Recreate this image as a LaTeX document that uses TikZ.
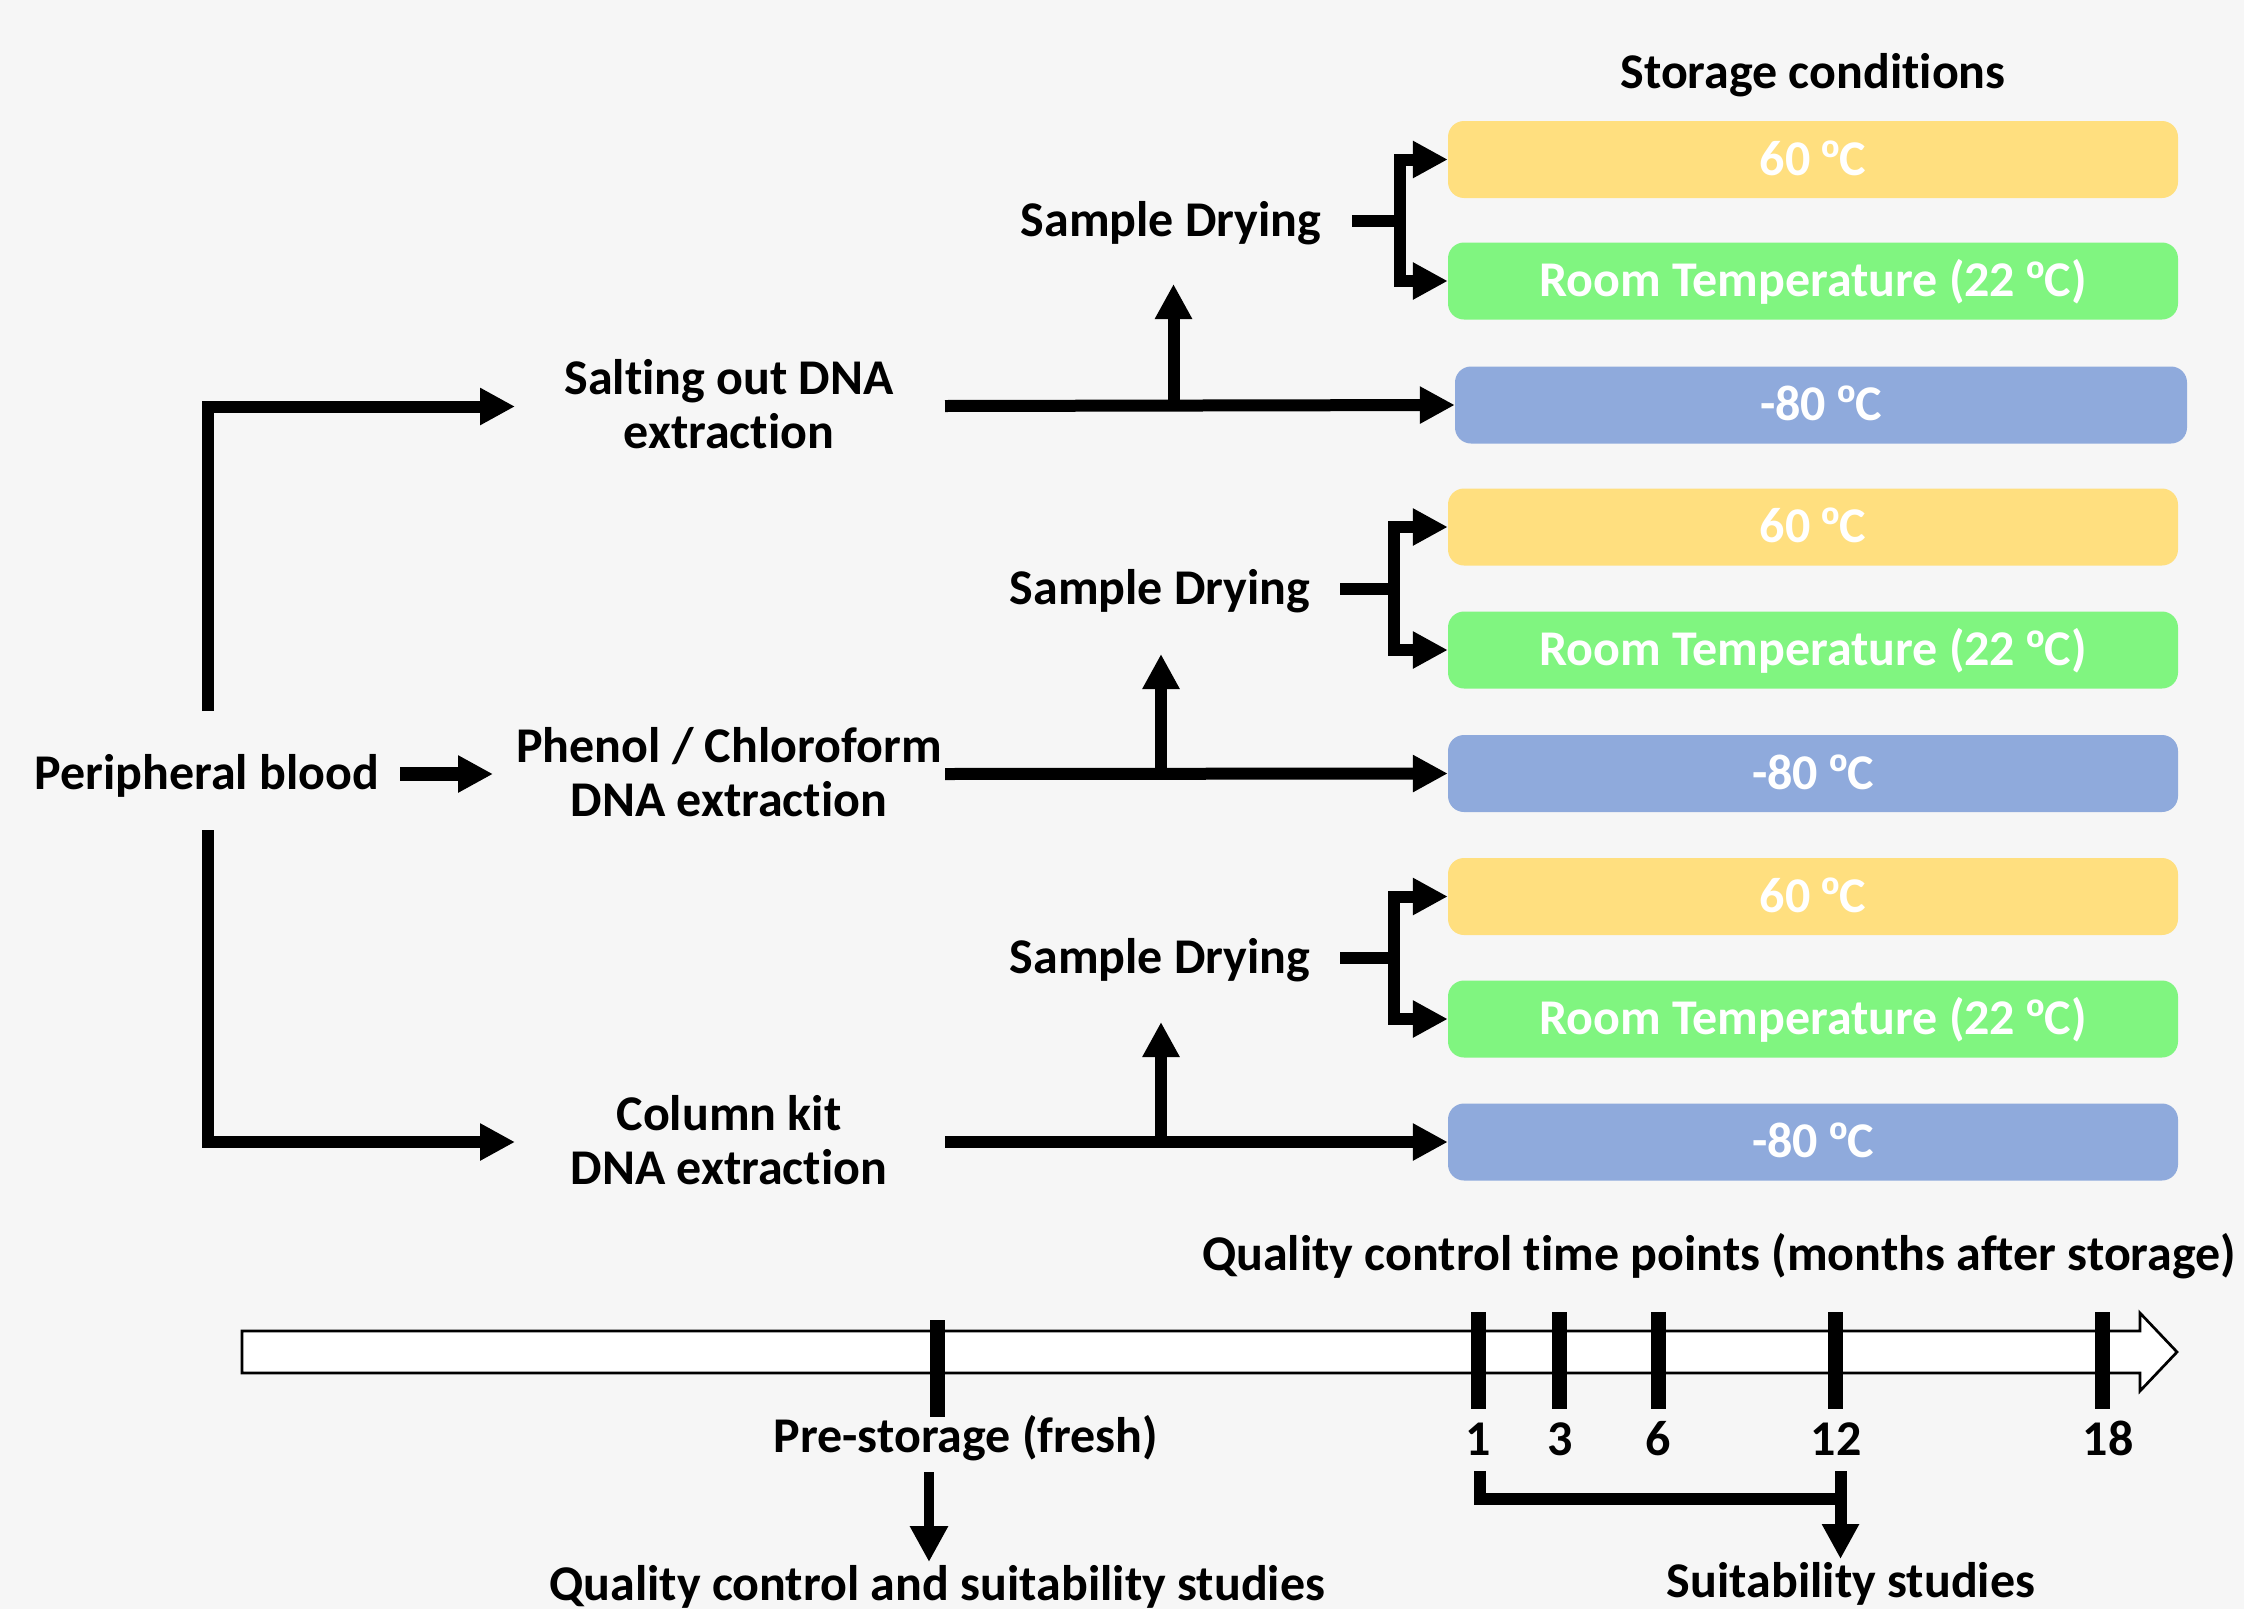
\documentclass[tikz,border=0pt]{standalone}
\usepackage{fontspec}
\setmainfont{Carlito}[Ligatures=NoCommon]
\newfontfamily\ordfont{Liberation Sans}
\usetikzlibrary{arrows.meta}
\definecolor{bg}{HTML}{F6F6F6}
\definecolor{warm}{HTML}{FFDF7F}
\definecolor{room}{HTML}{80F580}
\definecolor{cold}{HTML}{8FAADC}
% strut from 11.2pt below to 42.8pt above the baseline: a node's centre is the middle of its capitals
\newcommand{\capstrut}{\rule[-11.2pt]{0pt}{54pt}}
% underlined ordinal sign of the temperatures
\newcommand{\ordo}{{\ordfont\bfseries º}}
\begin{document}
\begin{tikzpicture}[x=1pt,y=-1pt,
  every node/.style={font=\fontsize{50}{54}\selectfont\bfseries, inner sep=0pt},
  lbl/.style={align=center},
  cond/.style={fill=#1, rounded corners=16pt, minimum height=77pt, text=white},
  flow/.style={line width=12pt, -{Triangle[length=35pt,width=35pt]}},
  fatflow/.style={line width=14pt, -{Triangle[length=35pt,width=35pt]}},
  link/.style={line width=12pt},
  tick/.style={line width=15pt},
]
\fill[bg] (0,0) rectangle (2244,1609);
\useasboundingbox (0,0) rectangle (2244,1609);

% ---------- storage condition boxes ----------
\node at (1813,73) (title) {\capstrut Storage conditions};

\node[cond=warm, minimum width=730pt] (w1) at (1813,159.5) {\capstrut 60 \ordo C};
\node[cond=room, minimum width=730pt] (r1) at (1813,281) {\capstrut Room Temperature (22 \ordo C)};
\node[cond=cold, minimum width=732pt] (c1) at (1821,405) {\capstrut -80 \ordo C};

\node[cond=warm, minimum width=730pt] (w2) at (1813,527) {\capstrut 60 \ordo C};
\node[cond=room, minimum width=730pt] (r2) at (1813,650) {\capstrut Room Temperature (22 \ordo C)};
\node[cond=cold, minimum width=730pt] (c2) at (1813,773.5) {\capstrut -80 \ordo C};

\node[cond=warm, minimum width=730pt] (w3) at (1813,896.5) {\capstrut 60 \ordo C};
\node[cond=room, minimum width=730pt] (r3) at (1813,1019) {\capstrut Room Temperature (22 \ordo C)};
\node[cond=cold, minimum width=730pt] (c3) at (1813,1142) {\capstrut -80 \ordo C};

% ---------- source and extraction methods ----------
\node (blood) at (207,774) {\capstrut Peripheral blood};
\node[lbl] (salt) at (729,406) {\capstrut Salting out DNA\\\capstrut extraction};
\node[lbl] (phenol) at (729,774) {\capstrut Phenol / Chloroform\\\capstrut DNA extraction};
\node[lbl] (column) at (729,1142) {\capstrut Column kit\\\capstrut DNA extraction};

\node (dry1) at (1171,221) {\capstrut Sample Drying};
\node (dry2) at (1160,588.5) {\capstrut Sample Drying};
\node (dry3) at (1160,958) {\capstrut Sample Drying};

% free ends of the connectors
\coordinate (bUp) at (207.5,711);
\coordinate (bDown) at (207.5,830);
\coordinate (sIn) at (515,406.5);
\coordinate (cIn) at (515,1142);
\coordinate (sOut) at (945,406);
\coordinate (pOut) at (945,774);
\coordinate (cOut) at (945,1142);
\coordinate (j1) at (1173.5,406);
\coordinate (j2) at (1161,774);
\coordinate (j3) at (1161,1142);
\coordinate (f1) at (1400,221);
\coordinate (f2) at (1394,588.5);
\coordinate (f3) at (1394,958);

% blood to the three extraction methods
\draw[flow] (bUp) |- (sIn);
\draw[fatflow] (400,774) -- (493,774);
\draw[flow] (bDown) |- (cIn);

% extraction to storage at -80 and to drying
\draw[flow] (sOut) -- (c1.west);
\draw[flow] (pOut) -- (c2.west);
\draw[flow] (cOut) -- (c3.west);
\draw[flow] (j1) -- (1173.5,284);
\draw[flow] (j2) -- (1161,654);
\draw[flow] (j3) -- (1161,1022);

% drying split to 60 and room temperature
\draw[link] (1352,221) -- (f1);
\draw[flow] (f1) |- (w1.west);
\draw[flow] (f1) |- (r1.west);
\draw[link] (1340,588.5) -- (f2);
\draw[flow] (f2) |- (w2.west);
\draw[flow] (f2) |- (r2.west);
\draw[link] (1340,958) -- (f3);
\draw[flow] (f3) |- (w3.west);
\draw[flow] (f3) |- (r3.west);

% ---------- time line ----------
\node (qct) at (1719,1255) {\capstrut Quality control time points (months after storage)};
\draw[line width=2.7pt, fill=white, line join=miter]
  (242,1331) -- (2140,1331) -- (2140,1313) -- (2177,1352) -- (2140,1391)
  -- (2140,1373) -- (242,1373) -- cycle;

\draw[tick] (937,1320) -- (937,1417);
\foreach \x in {1478,1559,1658.5,1835.5,2102.5}
  \draw[tick] (\x,1312) -- (\x,1409);

\node (pre) at (966,1437) {\capstrut Pre-storage (fresh)};
\node (m1) at (1478,1440) {\capstrut 1};
\node (m3) at (1560,1440) {\capstrut 3};
\node (m6) at (1658,1440) {\capstrut 6};
\node (m12) at (1836,1440) {\capstrut 12};
\node (m18) at (2108,1440) {\capstrut 18};

\node (qcs) at (937,1585) {\capstrut Quality control and suitability studies};
\node (suit) at (1851,1582) {\capstrut Suitability studies};

\coordinate (preDown) at (929,1472);
\coordinate (preTip) at (929,1562);
\coordinate (bkL) at (1480,1471);
\coordinate (bkR) at (1840.5,1471);
\coordinate (bkTip) at (1840.5,1559);
\draw[line width=10pt, -{Triangle[length=36pt,width=36pt]}] (preDown) -- (preTip);
\draw[link, line join=miter] (bkL) |- (1840.5,1499);
\draw[flow] (bkR) -- (bkTip);
\end{tikzpicture}
\end{document}
